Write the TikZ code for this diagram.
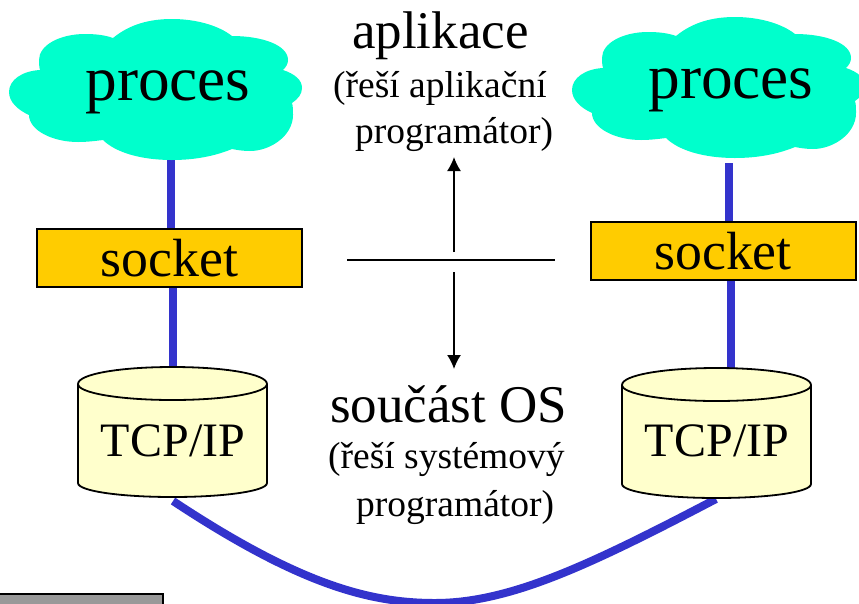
\documentclass[tikz,border=0pt]{standalone}
\usepackage{fontspec}
\setmainfont{Liberation Serif}
\usetikzlibrary{arrows.meta}
\definecolor{cloudc}{HTML}{00FFCC}
\definecolor{wirec}{HTML}{3333CC}
\definecolor{sockc}{HTML}{FFCC00}
\definecolor{cylc}{HTML}{FFFFCC}
\definecolor{grayc}{HTML}{999999}
\tikzset{
  wire/.style={draw=wirec,line width=8pt},
  sockbox/.style={draw=black,line width=2pt,fill=sockc,minimum width=265pt,minimum height=58pt,inner sep=0pt,font=\fontsize{53.8}{54}\selectfont},
  cloudtext/.style={font=\fontsize{63.3}{64}\selectfont,inner sep=0pt},
  cyltext/.style={font=\fontsize{48}{48}\selectfont,inner sep=0pt},
  head/.style={font=\fontsize{53}{53}\selectfont,inner sep=0pt,anchor=base west},
  sub/.style={font=\fontsize{37.5}{38}\selectfont,inner sep=0pt,anchor=base west},
  thin arrow/.style={draw=black,line width=1.6pt,-{Latex[length=14pt,width=14pt]}},
  cyl/.style={draw=black,line width=1.8pt,fill=cylc},
}
\newcommand{\cloudshape}[2]{%
  \fill[cloudc,shift={(#1,#2)}] (113,38)
    .. controls (130,24) and (150,19) .. (172,19)
    .. controls (195,19) and (218,25) .. (232,36)
    .. controls (262,36) and (288,45) .. (288,60)
    .. controls (288,64) and (286,67) .. (283,70)
    .. controls (295,74) and (302,80) .. (302,88)
    .. controls (302,94) and (298,99) .. (292,103)
    .. controls (293,106) and (293,110) .. (293,115)
    .. controls (293,136) and (270,151) .. (250,151)
    .. controls (243,151) and (237,150) .. (232,149)
    .. controls (215,156) and (195,160) .. (172,160)
    .. controls (140,160) and (115,152) .. (103,140)
    .. controls (95,141) and (87,142) .. (78,142)
    .. controls (52,142) and (29,130) .. (29,115)
    .. controls (18,110) and (9,102) .. (9,92)
    .. controls (9,80) and (22,71) .. (40,70)
    .. controls (39,66) and (39,63) .. (39,60)
    .. controls (39,45) and (60,34) .. (85,34)
    .. controls (95,34) and (105,35) .. (113,38) -- cycle;}
\newcommand{\cylshape}[2]{%
  \draw[cyl,shift={(#1,#2)}] (78,384) .. controls (78,374) and (120,367) .. (172.5,367)
    .. controls (225,367) and (267,374) .. (267,384) -- (267,483)
    .. controls (267,491) and (225,497) .. (172.5,497)
    .. controls (120,497) and (78,491) .. (78,483) -- cycle;
  \draw[line width=1.8pt,shift={(#1,#2)}] (78,384) .. controls (78,393) and (120,400) .. (172.5,400)
    .. controls (225,400) and (267,393) .. (267,384);}
\begin{document}
\begin{tikzpicture}[x=1pt,y=-1pt]
\useasboundingbox (0,0) rectangle (859,603);
\clip (0,0) rectangle (859,603);
\fill[white] (0,0) rectangle (859,603);
% wires (drawn under the shapes)
\coordinate (cl) at (171,158);
\coordinate (sl) at (171,232);
\coordinate (sl2) at (173,285);
\coordinate (tl) at (173,370);
\coordinate (cr) at (729,163);
\coordinate (sr) at (729,225);
\coordinate (sr2) at (731,278);
\coordinate (tr) at (731,370);
\coordinate (wa) at (173,501);
\coordinate (wb) at (716,499);
\draw[wire] (cl) -- (sl);
\draw[wire] (sl2) -- (tl);
\draw[wire] (cr) -- (sr);
\draw[wire] (sr2) -- (tr);
\draw[wire] (wa) .. controls (300,585) and (370,603) .. (435,603) .. controls (510,603) and (590,565) .. (wb);
\cloudshape{0}{0}
\cloudshape{563}{-2}
\node[cloudtext] (p1) at (168,92) {proces};
\node[cloudtext] (p2) at (731,90) {proces};
\node[sockbox] (s1) at (169.5,258) {\raisebox{-6pt}{socket}};
\node[sockbox] (s2) at (723,251) {\raisebox{-6pt}{socket}};
\cylshape{0}{0}
\cylshape{544}{1}
\node[cyltext] (t1) at (173,441) {TCP/IP};
\node[cyltext] (t2) at (717,441) {TCP/IP};
\node[head] (a) at (352,48) {aplikace};
\node[sub] (a1) at (333,97) {(řeší aplikační};
\node[sub] (a2) at (355,143) {programátor)};
\node[head] (b) at (330,422) {součást OS};
\node[sub] (b1) at (328,468) {(řeší systémový};
\node[sub] (b2) at (356,516) {programátor)};
% divider
\coordinate (hl) at (347,260);
\coordinate (hr) at (555,260);
\coordinate (ua) at (454,252);
\coordinate (ub) at (454,157);
\coordinate (da) at (454,272);
\coordinate (db) at (454,369);
\draw[line width=1.6pt] (hl) -- (hr);
\draw[thin arrow] (ua) -- (ub);
\draw[thin arrow] (da) -- (db);
\draw[draw=black,line width=2pt,fill=grayc] (-5,594) rectangle (163,610);
\end{tikzpicture}
\end{document}
